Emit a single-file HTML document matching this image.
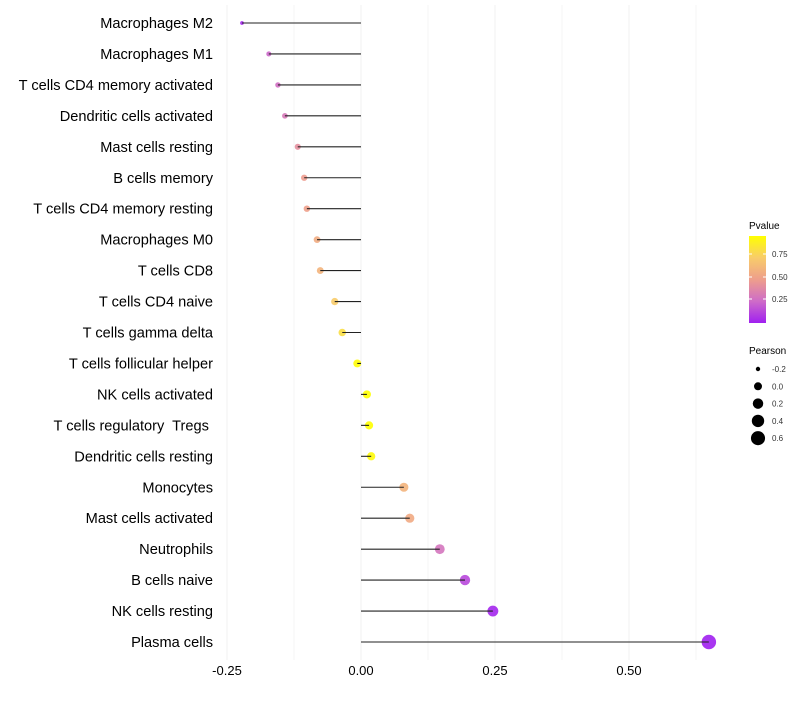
<!DOCTYPE html>
<html><head><meta charset="utf-8"><style>
body{margin:0;background:#fff;font-family:"Liberation Sans",sans-serif}
text{white-space:pre}
</style></head><body>
<svg id="chart" width="800" height="700" xmlns="http://www.w3.org/2000/svg">
<defs><linearGradient id="pg" x1="0" y1="1" x2="0" y2="0">
<stop offset="0" stop-color="#A020F0"/><stop offset="0.25" stop-color="#CE6CC8"/><stop offset="0.5" stop-color="#EE9E8C"/><stop offset="0.75" stop-color="#F8CC6A"/><stop offset="1" stop-color="#FFFF00"/>
</linearGradient></defs>
<g id="grid"></g><g id="marks"></g><g id="labels"></g>
<g>
<text x="749" y="229" font-size="10" fill="#000">Pvalue</text>
<rect x="749" y="236" width="17" height="87" fill="url(#pg)"/>
<line x1="749" y1="254" x2="752" y2="254" stroke="#fff"/><line x1="763" y1="254" x2="766" y2="254" stroke="#fff"/>
<line x1="749" y1="277" x2="752" y2="277" stroke="#fff"/><line x1="763" y1="277" x2="766" y2="277" stroke="#fff"/>
<line x1="749" y1="299" x2="752" y2="299" stroke="#fff"/><line x1="763" y1="299" x2="766" y2="299" stroke="#fff"/>
<text x="772" y="257" font-size="8" fill="#333">0.75</text>
<text x="772" y="280" font-size="8" fill="#333">0.50</text>
<text x="772" y="302" font-size="8" fill="#333">0.25</text>
</g>
<g id="sizeLegend">
<text x="749" y="354" font-size="10" fill="#000">Pearson</text>
</g>
</svg>
<script>
const categories=["Macrophages M2","Macrophages M1","T cells CD4 memory activated","Dendritic cells activated","Mast cells resting","B cells memory","T cells CD4 memory resting","Macrophages M0","T cells CD8","T cells CD4 naive","T cells gamma delta","T cells follicular helper","NK cells activated","T cells regulatory  Tregs ","Dendritic cells resting","Monocytes","Mast cells activated","Neutrophils","B cells naive","NK cells resting","Plasma cells"];
const pearson=[-0.222,-0.172,-0.155,-0.142,-0.118,-0.106,-0.101,-0.082,-0.076,-0.049,-0.035,-0.007,0.011,0.015,0.019,0.080,0.091,0.147,0.194,0.246,0.649];
const pvalues=[0.05,0.25,0.28,0.32,0.42,0.48,0.5,0.56,0.6,0.72,0.8,0.94,0.96,0.96,0.93,0.6,0.55,0.3,0.15,0.05,0.001];
const xTicks=[-0.25,0,0.25,0.5];
const xTickLabels=["-0.25","0.00","0.25","0.50"];
const sizeBreaks=[-0.2,0,0.2,0.4,0.6];
const NS="http://www.w3.org/2000/svg";
const x=v=>361+v*536;
const y=i=>23+i*30.95;
const r=v=>Math.sqrt(Math.max(1,16+56*v));
const stops=[[0,[160,32,240]],[0.25,[206,108,200]],[0.5,[238,158,140]],[0.75,[248,204,106]],[1,[255,255,0]]];
function col(p){const t=Math.min(1,Math.max(0,(p-0.03)/0.92));for(let k=1;k<stops.length;k++){if(t<=stops[k][0]){const a=stops[k-1],b=stops[k],f=(t-a[0])/(b[0]-a[0]);const c=a[1].map((v,j)=>Math.round(v+(b[1][j]-v)*f));return `rgb(${c})`;}}return "rgb(255,255,0)";}
function mk(tag,at,parent){const e=document.createElementNS(NS,tag);for(const k in at)e.setAttribute(k,at[k]);parent.appendChild(e);return e;}
const grid=document.getElementById('grid'),marks=document.getElementById('marks'),labels=document.getElementById('labels');
[-0.25,-0.125,0,0.125,0.25,0.375,0.5,0.625].forEach(v=>{const l=mk('line',{x1:x(v),x2:x(v),y1:5,y2:660,stroke:'#f0f0f0','stroke-width':Math.abs(v*8)%2===1?0.6:1},grid);

});
xTicks.forEach((v,i)=>{const t=mk('text',{x:x(v),y:675,'font-size':13,'text-anchor':'middle',fill:'#000'},labels);t.textContent=xTickLabels[i];

});
categories.forEach((c,i)=>{const t=mk('text',{x:213,y:y(i)+5,'font-size':14.6,'text-anchor':'end',fill:'#000'},labels);t.textContent=c;


const cir=mk('circle',{cx:x(pearson[i]),cy:y(i),r:r(pearson[i]),fill:col(pvalues[i]),'fill-opacity':0.9},marks);


const l=mk('line',{x1:x(0),x2:x(pearson[i]),y1:y(i),y2:y(i),stroke:'#222','stroke-width':1.1},marks);

});
const sl=document.getElementById('sizeLegend');
sizeBreaks.forEach((v,i)=>{const cy=369+i*17.3;const c=mk('circle',{cx:758,cy:cy,r:r(v),fill:'#000'},sl);


const t=mk('text',{x:772,y:cy+3,'font-size':8,fill:'#333'},sl);t.textContent=v.toFixed(1);

});
</script>
</body></html>
